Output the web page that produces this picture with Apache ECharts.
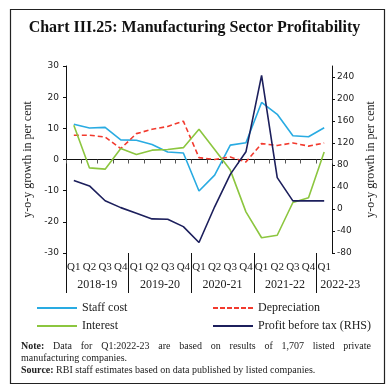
<!DOCTYPE html>
<html><head><meta charset="utf-8">
<script src="https://cdn.jsdelivr.net/npm/echarts@6/dist/echarts.min.js"></script>
<style>html,body{margin:0;padding:0;background:#fff}#c{width:389px;height:389px}</style>
</head><body><div id="c"></div>
<script>
const years = ['2018-19', '2019-20', '2020-21', '2021-22', '2022-23'];
const quarterLabels = ['Q1','Q2','Q3','Q4','Q1','Q2','Q3','Q4','Q1','Q2','Q3','Q4','Q1','Q2','Q3','Q4','Q1'];
const categories = [
  '2018-19 Q1','2018-19 Q2','2018-19 Q3','2018-19 Q4',
  '2019-20 Q1','2019-20 Q2','2019-20 Q3','2019-20 Q4',
  '2020-21 Q1','2020-21 Q2','2020-21 Q3','2020-21 Q4',
  '2021-22 Q1','2021-22 Q2','2021-22 Q3','2021-22 Q4',
  '2022-23 Q1'
];
const staffCost      = [11.3, 10.1, 10.3, 6.3, 6.2, 4.8, 2.4, 2.1, -10.1, -5.0, 4.6, 5.4, 18.3, 14.5, 7.6, 7.3, 10.2];
const depreciation   = [7.8, 7.8, 7.2, 3.5, 8.3, 9.7, 10.6, 12.3, 0.6, 0.0, 0.8, -0.8, 5.1, 4.5, 5.3, 4.3, 5.3];
const interest       = [11.0, -2.7, -3.1, 3.5, 1.6, 3.0, 3.2, 3.8, 9.7, 3.2, -3.4, -16.8, -25.1, -24.3, -13.8, -12.3, 2.4];
const profitBeforeTax= [52, 42, 15, 2.5, -7.6, -18, -18.5, -32, -61, 4, 63, 104, 243, 57, 14.7, 14.7, 14.7];
const leftAxisTicks  = [-30, -20, -10, 0, 10, 20, 30];
const rightAxisTicks = [-80, -40, 0, 40, 80, 120, 160, 200, 240];
const seriesNames = ['Staff cost', 'Depreciation', 'Interest', 'Profit before tax (RHS)'];
const axisName = 'y-o-y growth in per cent';
const titleText = 'Chart III.25: Manufacturing Sector Profitability';
const noteLine1 = ['Note:', 'Data', 'for', 'Q1:2022-23', 'are', 'based', 'on', 'results', 'of', '1,707', 'listed', 'private'];
const noteLine2 = 'manufacturing companies.';
const sourceLabel = 'Source:';
const sourceText = 'RBI staff estimates based on data published by listed companies.';

const serif = '"Liberation Serif", "DejaVu Serif", serif';
const sans = '"DejaVu Sans", sans-serif';
const C = { staff: '#29abe2', dep: '#f23a2e', int: '#8cc63f', pbt: '#1c1f5c' };

// legend icons: solid and dashed line shapes
const solidIcon = 'path://M0,0h40v2h-40z';
const dashedIcon = 'path://M0,0h5v2h-5z M7,0h5v2h-5z M14,0h5v2h-5z M21,0h5v2h-5z M28,0h5v2h-5z M35,0h5v2h-5z';

// justify first note line
const cv = document.createElement('canvas').getContext('2d');
function w(t, bold) { cv.font = (bold ? 'bold ' : 'normal ') + '10px ' + serif; return cv.measureText(t).width; }
let sumW = 0; noteLine1.forEach((t, i) => { sumW += w(t, i === 0); });
const gap = Math.max(2.5, (350 - sumW) / (noteLine1.length - 1));
const line1 = noteLine1.map((t, i) => (i === 0 ? '{nb|' : (i === noteLine1.length - 1 ? '{n|' : '{ng|')) + t + '}').join('');

const chart = echarts.init(document.getElementById('c'), null, { renderer: 'canvas' });
const yearAt = { 2: 0, 6: 1, 10: 2, 14: 3 };
const legendText = { fontFamily: serif, fontSize: 12, color: '#222' };
chart.setOption({
  animation: false,
  backgroundColor: '#fff',
  title: [
    { text: titleText, left: 'center', top: 15,
      textStyle: { fontFamily: serif, fontWeight: 'bold', fontSize: 16, color: '#111' } },
    { text: line1 + '\n' + '{n|' + noteLine2 + '}' + '\n' + '{sb|' + sourceLabel + '}{n| ' + sourceText + '}',
      left: 16, top: 335,
      textStyle: { fontFamily: serif, fontSize: 10, fontWeight: 'normal', color: '#222', lineHeight: 12,
        rich: {
          nb: { fontFamily: serif, fontSize: 10, fontWeight: 'bold', color: '#222', padding: [0, gap, 0, 0], lineHeight: 12 },
          ng: { fontFamily: serif, fontSize: 10, fontWeight: 'normal', color: '#222', padding: [0, gap, 0, 0], lineHeight: 12 },
          n: { fontFamily: serif, fontSize: 10, fontWeight: 'normal', color: '#222', lineHeight: 12 },
          sb: { fontFamily: serif, fontSize: 10, fontWeight: 'bold', color: '#222', lineHeight: 12 }
        } } }
  ],
  graphic: [
    { type: 'rect', left: 8, top: 7, shape: { width: 374, height: 374 }, style: { fill: 'none', stroke: '#222', lineWidth: 1.2 }, silent: true }
  ],
  legend: [
    { left: 32, top: 297, orient: 'vertical', itemWidth: 40, itemHeight: 2, itemGap: 6,
      data: [{ name: seriesNames[0], icon: solidIcon }, { name: seriesNames[2], icon: solidIcon }],
      textStyle: legendText },
    { left: 208, top: 297, orient: 'vertical', itemWidth: 40, itemHeight: 2, itemGap: 6,
      data: [{ name: seriesNames[1], icon: dashedIcon }, { name: seriesNames[3], icon: solidIcon }],
      textStyle: legendText }
  ],
  grid: [
    { left: 66, right: 57, top: 66, bottom: 136 },
    { left: 66, right: 57, top: 253, height: 40 }
  ],
  xAxis: [
    { type: 'category', gridIndex: 0, data: categories, boundaryGap: true,
      axisLine: { onZero: true, onZeroAxisIndex: 0, lineStyle: { color: '#111', width: 1 } },
      axisTick: { show: true, interval: 0, length: 4, lineStyle: { color: '#555' } },
      axisLabel: { show: false }, splitLine: { show: false } },
    { type: 'category', gridIndex: 0, position: 'bottom', data: categories, boundaryGap: true,
      axisLine: { show: false, onZero: false }, axisTick: { show: false },
      axisLabel: { interval: 0, margin: 9, fontFamily: serif, fontSize: 11, color: '#222',
        formatter: (v, i) => quarterLabels[i] } },
    { type: 'value', gridIndex: 0, position: 'bottom', min: 0, max: categories.length, interval: 2,
      axisLine: { show: false, onZero: false }, axisTick: { show: false }, splitLine: { show: false },
      axisLabel: { margin: 26, fontFamily: serif, fontSize: 12, color: '#222',
        showMinLabel: true, showMaxLabel: true,
        formatter: v => (v in yearAt) ? years[yearAt[v]] : (v === 16 ? '{last|' + years[4] + '}' : ''),
        rich: { last: { fontFamily: serif, fontSize: 12, color: '#222', padding: [0, 0, 0, 48] } } } },
    { type: 'value', gridIndex: 1, min: 0, max: categories.length, interval: 4,
      axisLine: { show: false, onZero: false }, axisTick: { show: false }, axisLabel: { show: false },
      splitLine: { show: true, showMinLine: true, showMaxLine: false, lineStyle: { color: '#111', width: 1 } } }
  ],
  yAxis: [
    { type: 'value', gridIndex: 0, position: 'left', min: leftAxisTicks[0], max: leftAxisTicks[leftAxisTicks.length - 1], interval: 10,
      axisLine: { show: true, lineStyle: { color: '#111' } },
      axisTick: { show: true, length: 3, lineStyle: { color: '#111' } },
      axisLabel: { margin: 7, fontFamily: sans, fontSize: 9, color: '#222' },
      splitLine: { show: false },
      name: axisName, nameLocation: 'middle', nameGap: 31,
      nameTextStyle: { fontFamily: serif, fontSize: 12, color: '#222' } },
    { type: 'value', gridIndex: 0, position: 'right', min: rightAxisTicks[0], max: 260, interval: 40,
      axisLine: { show: true, lineStyle: { color: '#111' } },
      axisTick: { show: true, length: 3, lineStyle: { color: '#111' } },
      axisLabel: { margin: 5, fontFamily: sans, fontSize: 9, color: '#222', showMaxLabel: false },
      splitLine: { show: false },
      name: axisName, nameLocation: 'middle', nameGap: 31,
      nameTextStyle: { fontFamily: serif, fontSize: 12, color: '#222' } },
    { type: 'value', gridIndex: 1, show: false, min: 0, max: 1 }
  ],
  series: [
    { name: seriesNames[0], type: 'line', xAxisIndex: 0, yAxisIndex: 0, data: staffCost, symbol: 'none',
      lineStyle: { color: C.staff, width: 1.6 }, itemStyle: { color: C.staff } },
    { name: seriesNames[1], type: 'line', xAxisIndex: 0, yAxisIndex: 0, data: depreciation, symbol: 'none',
      lineStyle: { color: C.dep, width: 1.6, type: [5, 3] }, itemStyle: { color: C.dep } },
    { name: seriesNames[2], type: 'line', xAxisIndex: 0, yAxisIndex: 0, data: interest, symbol: 'none',
      lineStyle: { color: C.int, width: 1.6 }, itemStyle: { color: C.int } },
    { name: seriesNames[3], type: 'line', xAxisIndex: 0, yAxisIndex: 1, data: profitBeforeTax, symbol: 'none',
      lineStyle: { color: C.pbt, width: 1.6 }, itemStyle: { color: C.pbt } }
  ]
});
</script></body></html>
